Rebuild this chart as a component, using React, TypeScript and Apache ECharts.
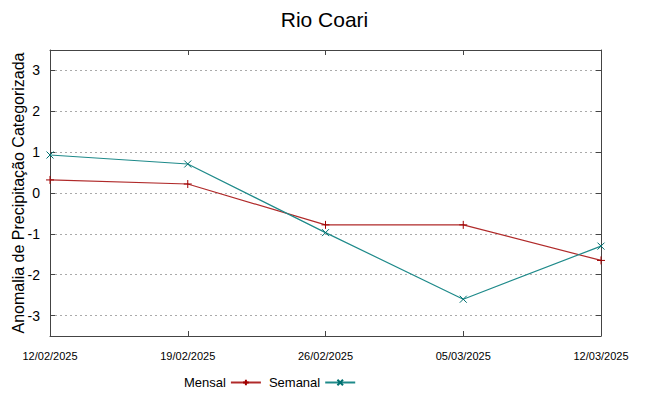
import React, { useEffect, useRef } from "react";
import * as echarts from "echarts";

const categories = ["12/02/2025", "19/02/2025", "26/02/2025", "05/03/2025", "12/03/2025"];
const mensal = [0.32, 0.22, -0.78, -0.78, -1.65];
const semanal = [0.93, 0.71, -0.97, -2.6, -1.3];
const yTicks = [-3, -2, -1, 0, 1, 2, 3];

const FONT = "'Liberation Sans', Arial, sans-serif";
const PLUS = "path://M0,5L10,5M5,0L5,10";
const CROSS = "path://M0,0L10,10M10,0L0,10";

export default function App() {
  const ref = useRef<HTMLDivElement>(null);
  useEffect(() => {
    document.body.style.margin = "0";
    const chart = echarts.init(ref.current!, null, { renderer: "svg" });
    const axisLine = { show: true, onZero: false, lineStyle: { color: "#444", width: 1 } };
    const tick = { show: true, inside: true, length: 5, lineStyle: { color: "#444" } };
    chart.setOption({
      animation: false,
      backgroundColor: "#fff",
      title: {
        text: "Rio Coari",
        left: "center",
        top: 4,
        textStyle: { fontFamily: FONT, fontSize: 21, fontWeight: "normal", color: "#000" },
      },
      legend: {
        bottom: 2,
        left: 179,
        align: "right",
        itemWidth: 30,
        itemHeight: 7,
        itemGap: 7,
        textStyle: { fontFamily: FONT, fontSize: 13, color: "#000" },
        data: ["Mensal", "Semanal"],
      },
      grid: { left: 50, right: 48, top: 50, bottom: 60, containLabel: false, outerBoundsMode: "none" },
      xAxis: [
        {
          type: "category",
          data: categories,
          boundaryGap: false,
          axisLine,
          axisTick: tick,
          axisLabel: { fontFamily: FONT, fontSize: 11, color: "#000", margin: 14, interval: 0 },
          splitLine: { show: false },
        },
        {
          type: "category",
          data: categories,
          boundaryGap: false,
          position: "top",
          axisLine,
          axisTick: tick,
          axisLabel: { show: false },
          splitLine: { show: false },
        },
      ],
      yAxis: [
        {
          type: "value",
          min: -3.5,
          max: 3.5,
          name: "Anomalia de Precipitação Categorizada",
          nameLocation: "middle",
          nameGap: 24,
          nameMoveOverlap: false,
          nameTextStyle: { fontFamily: FONT, fontSize: 16, color: "#000" },
          axisLine,
          axisTick: { ...tick, customValues: yTicks },
          axisLabel: { fontFamily: FONT, fontSize: 14, color: "#000", margin: 10, customValues: yTicks },
          splitLine: { show: true, lineStyle: { color: "#aaa", type: [2, 3], width: 1 } },
        },
        {
          type: "value",
          min: -3.5,
          max: 3.5,
          position: "right",
          axisLine,
          axisTick: { ...tick, customValues: yTicks },
          axisLabel: { show: false, customValues: yTicks },
          splitLine: { show: false },
        },
      ],
      series: [
        {
          name: "Mensal",
          type: "line",
          data: mensal,
          symbol: PLUS,
          symbolSize: 8,
          lineStyle: { color: "#b02a2a", width: 1.2 },
          itemStyle: { color: "none", borderColor: "#a00000", borderWidth: 1 },
        },
        {
          name: "Semanal",
          type: "line",
          data: semanal,
          symbol: CROSS,
          symbolSize: 7,
          lineStyle: { color: "#1e8a8a", width: 1.2 },
          itemStyle: { color: "none", borderColor: "#007070", borderWidth: 1 },
        },
      ],
    });
    return () => chart.dispose();
  }, []);
  return <div ref={ref} style={{ width: 649, height: 396 }} />;
}
